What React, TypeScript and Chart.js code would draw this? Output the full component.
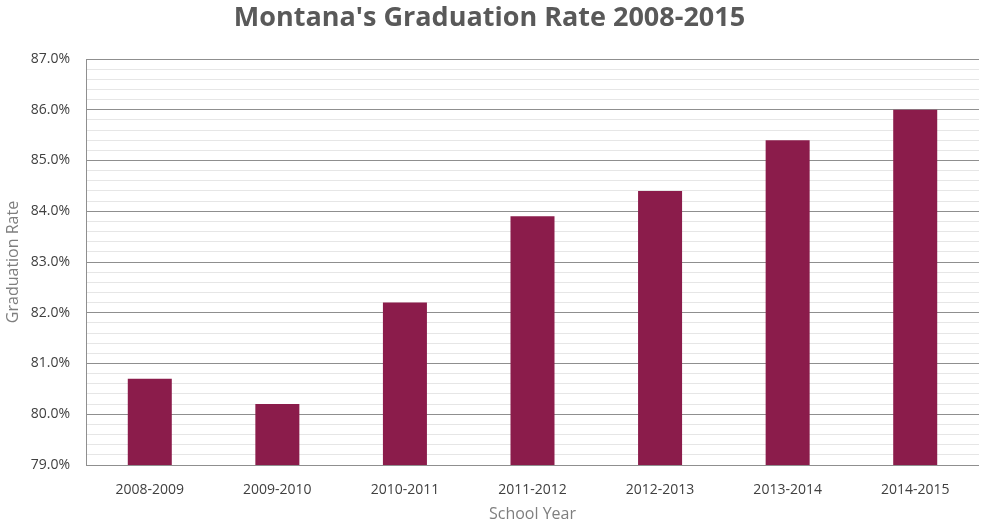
import React, { useEffect, useRef } from "react";
import { Chart, registerables } from "chart.js";

Chart.register(...registerables);

const categories = ["2008-2009", "2009-2010", "2010-2011", "2011-2012", "2012-2013", "2013-2014", "2014-2015"];
const rates = [80.7, 80.2, 82.2, 83.9, 84.4, 85.4, 86.0];
const titleText = "Montana's Graduation Rate 2008-2015";
const yTitle = "Graduation Rate";
const xTitle = "School Year";

const FONT = "'Open Sans', 'Noto Sans', sans-serif";

export default function App() {
  const ref = useRef<HTMLCanvasElement | null>(null);
  useEffect(() => {
    document.body.style.margin = "0";
    const chart = new Chart(ref.current as HTMLCanvasElement, {
      type: "bar",
      data: {
        labels: categories,
        datasets: [
          {
            data: rates,
            backgroundColor: "#8B1C4B",
            borderWidth: 0,
            categoryPercentage: 1,
            barPercentage: 0.345,
          },
        ],
      },
      options: {
        animation: false,
        responsive: false,
        maintainAspectRatio: false,
        layout: { padding: { left: 0, right: 2, top: 2, bottom: 0 } },
        plugins: {
          legend: { display: false },
          tooltip: { enabled: false },
          title: {
            display: true,
            text: titleText,
            color: "#595959",
            font: { family: FONT, size: 27, weight: "bold" },
            padding: { top: 0, bottom: 24.6 },
          },
        },
        scales: {
          x: {
            grid: { display: false },
            border: { display: false },
            ticks: { color: "#404040", font: { family: FONT, size: 14 }, padding: 9 },
            title: {
              display: true,
              text: xTitle,
              color: "#7f7f7f",
              font: { family: FONT, size: 16 },
              padding: { top: 4, bottom: 1 },
            },
            afterFit: (s: any) => {
              s.height = 60;
            },
          },
          y: {
            min: 79,
            max: 87,
            ticks: {
              stepSize: 0.2,
              autoSkip: false,
              color: "#404040",
              font: { family: FONT, size: 14 },
              padding: 16,
              callback: (v: any) => {
                const n = Number(v);
                return Math.abs(n - Math.round(n)) < 1e-6 ? n.toFixed(1) + "%" : "";
              },
            },
            grid: {
              color: (ctx: any) => {
                const n = ctx.tick ? ctx.tick.value : 0;
                return Math.abs(n - Math.round(n)) < 1e-6 ? "#8f8f8f" : "#e6e6e6";
              },
              lineWidth: 1,
              drawTicks: false,
            },
            border: { display: true, color: "#8f8f8f", width: 1 },
            title: {
              display: true,
              text: yTitle,
              color: "#7f7f7f",
              font: { family: FONT, size: 16 },
              padding: { top: 4, bottom: 0 },
            },
            afterFit: (s: any) => {
              s.width = 86;
            },
          },
        },
      },
    });
    return () => chart.destroy();
  }, []);
  return (
    <div style={{ width: 981, height: 525, background: "#fff" }}>
      <canvas ref={ref} width={981} height={525} style={{ width: 981, height: 525 }} />
    </div>
  );
}
